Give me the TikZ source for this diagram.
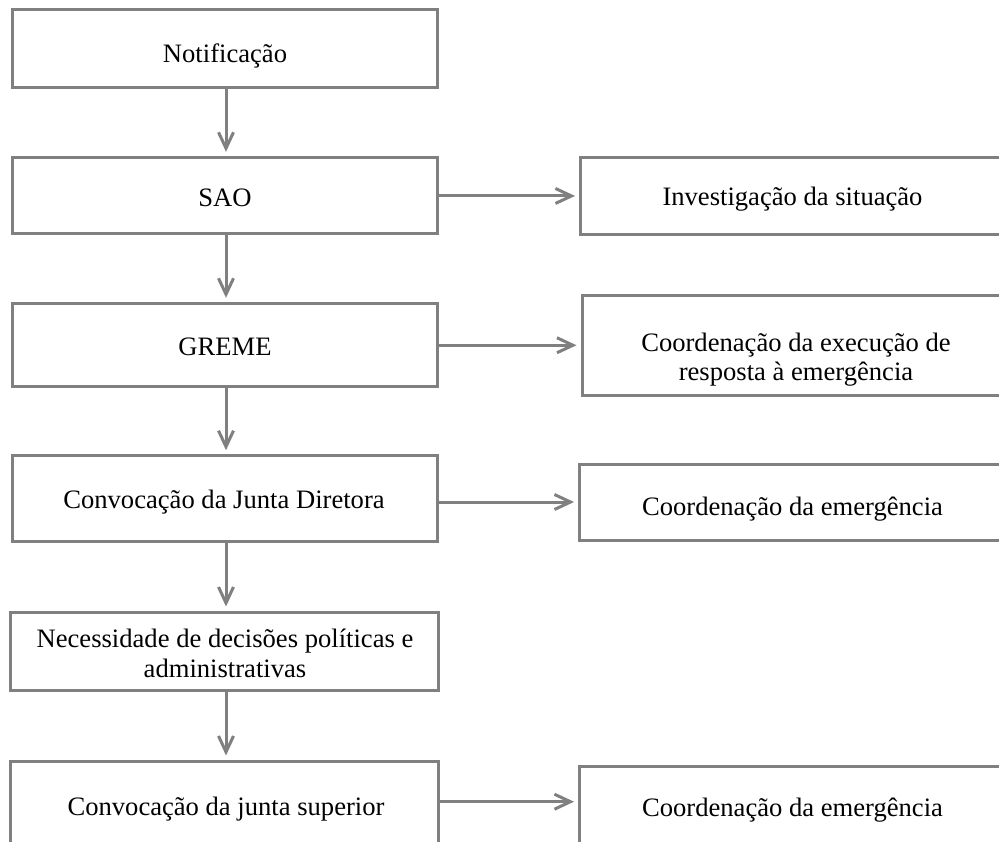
\documentclass[tikz,border=0pt]{standalone}
\usepackage{fontspec}
\setmainfont{Liberation Serif}
\usetikzlibrary{arrows.meta,fit}
\definecolor{linegray}{RGB}{128,128,128}
\tikzset{
  bx/.style={draw=linegray, line width=3pt, inner sep=0pt, outer sep=0pt, fill=white},
  lbl/.style={anchor=base, inner sep=0pt, text=black, font=\fontsize{26.6}{28.5}\selectfont, align=center},
  arr/.style={draw=linegray, line width=3pt, -{Straight Barb[length=16pt,width=15pt]}, shorten >=5.5pt}
}
\begin{document}
\begin{tikzpicture}[x=1pt,y=-1pt]
\useasboundingbox (0,0) rectangle (999,841);
\clip (0,0) rectangle (999,841);
\fill[white] (0,0) rectangle (999,841);
% left column boxes
\node[bx, fit={(12,9) (437.5,87.5)}] (b1) {};
\node[bx, fit={(12,157.3) (437.5,233.5)}] (b2) {};
\node[bx, fit={(12,303.3) (437.5,386)}] (b3) {};
\node[bx, fit={(12,455.7) (437.5,541.7)}] (b4) {};
\node[bx, fit={(10.5,612) (438.5,690)}] (b5) {};
\node[bx, fit={(10.5,761) (438.5,880)}] (b6) {};
% right column boxes
\node[bx, fit={(580.5,157.6) (1100,234.3)}] (r1) {};
\node[bx, fit={(582,295.5) (1100,395)}] (r2) {};
\node[bx, fit={(579.5,464) (1100,540)}] (r3) {};
\node[bx, fit={(579.5,766) (1100,880)}] (r4) {};
% texts (base anchor = baseline of the last line)
\node[lbl] (t1) at (225,62) {Notificação};
\node[lbl] (t2) at (225,206.5) {SAO};
\node[lbl] (t3) at (225,355) {GREME};
\node[lbl] (t4) at (224,508) {Convocação da Junta Diretora};
\node[lbl, font=\fontsize{26.6}{30}\selectfont] (t5) at (225,677) {Necessidade de decisões políticas e\\administrativas};
\node[lbl] (t6) at (226,815) {Convocação da junta superior};
\node[lbl] (u1) at (792.5,205) {Investigação da situação};
\node[lbl] (u2) at (796,380) {Coordenação da execução de\\resposta à emergência};
\node[lbl] (u3) at (792.5,515) {Coordenação da emergência};
\node[lbl] (u4) at (792.5,816.5) {Coordenação da emergência};
% connectors
\coordinate (ax) at (226,0);
\coordinate (h4) at (0,801.7);
\draw[arr] (b1.south -| ax) -- (b2.north -| ax);
\draw[arr] (b2.south -| ax) -- (b3.north -| ax);
\draw[arr] (b3.south -| ax) -- (b4.north -| ax);
\draw[arr] (b4.south -| ax) -- (b5.north -| ax);
\draw[arr] (b5.south -| ax) -- (b6.north -| ax);
\draw[arr] (b2.east |- r1.west) -- (r1.west);
\draw[arr] (b3.east |- r2.west) -- (r2.west);
\draw[arr] (b4.east |- r3.west) -- (r3.west);
\draw[arr] (b6.east |- h4) -- (r4.west |- h4);
\end{tikzpicture}
\end{document}
